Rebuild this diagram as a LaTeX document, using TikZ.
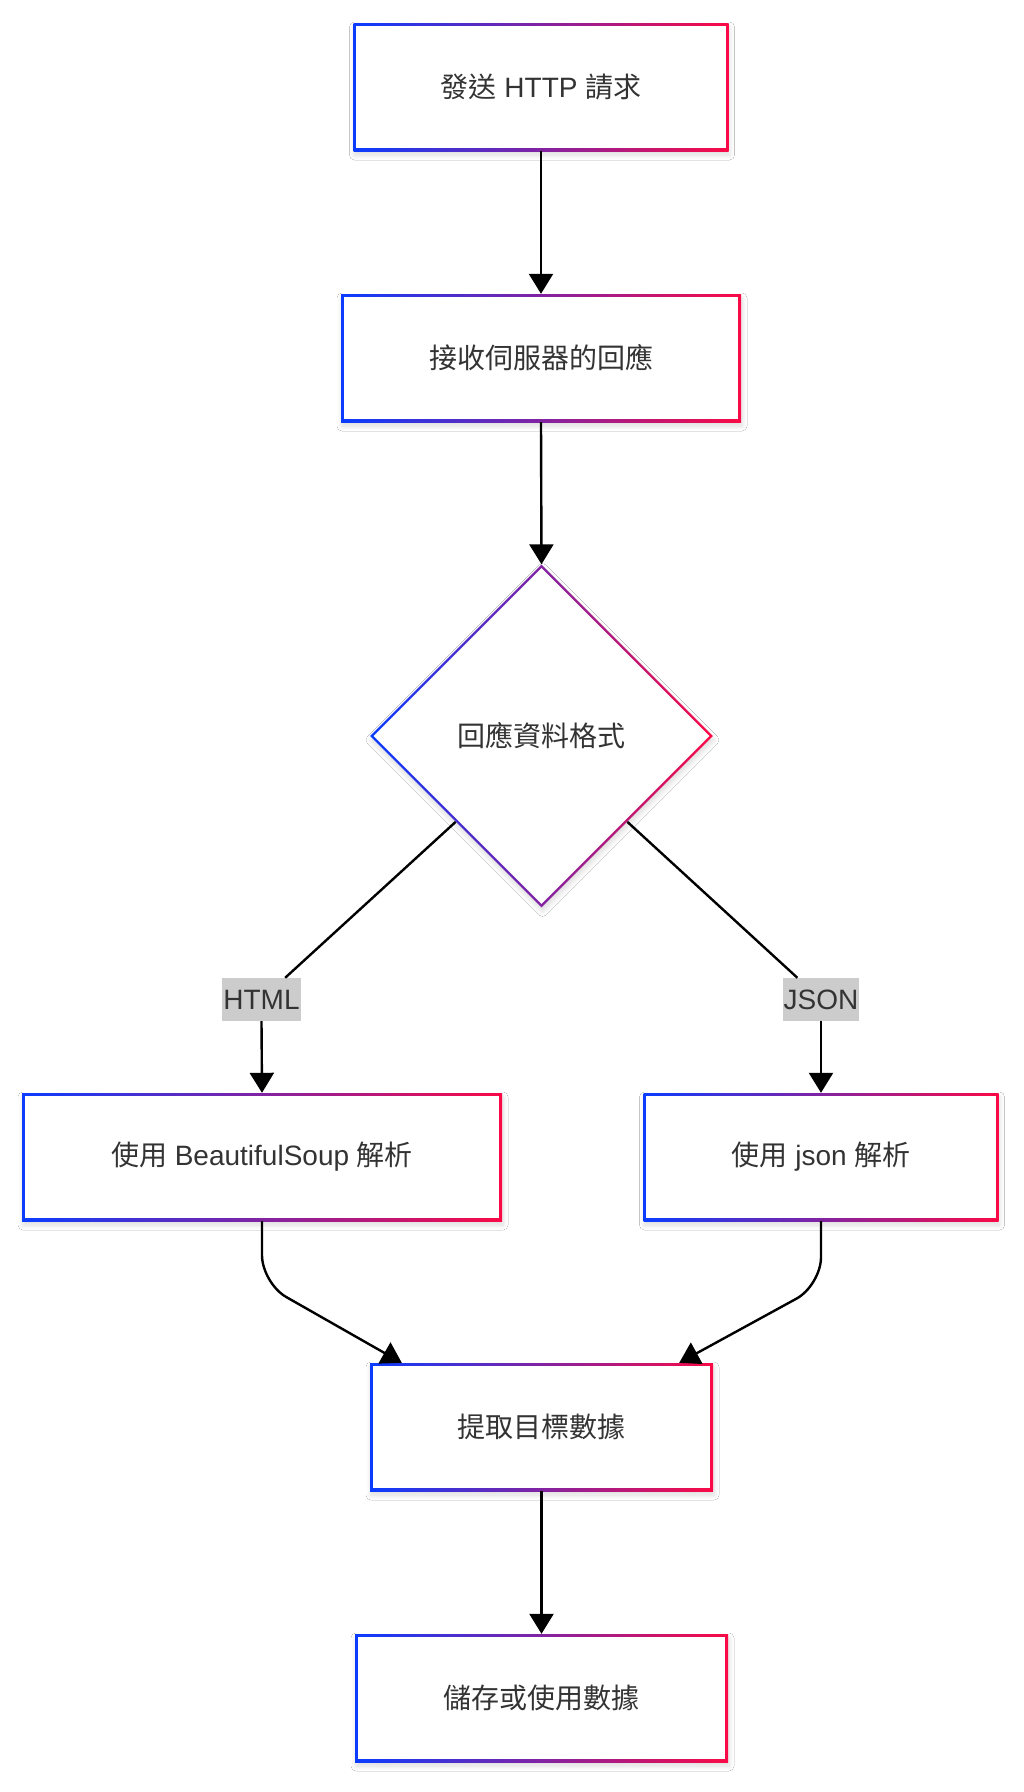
\documentclass[tikz,border=0pt]{standalone}
\usepackage{fontspec}
\setmainfont{Liberation Sans}
\newfontfamily\cjk{Noto Sans CJK TC}
\usetikzlibrary{arrows.meta,shapes.geometric,shadows.blur,calc}
\definecolor{gblue}{HTML}{0A3CFF}
\definecolor{gred}{HTML}{FA0A46}
\definecolor{txt}{HTML}{333333}
\definecolor{lblbg}{HTML}{CCCCCC}
\newcommand\zh[1]{{\cjk #1}}
\begin{document}
\begin{tikzpicture}[x=1pt,y=-1pt,
  font=\fontsize{28}{34}\selectfont, text=txt,
  soft/.style={blur shadow={shadow xshift=1pt, shadow yshift=-4pt, shadow blur radius=5pt, shadow blur steps=10, shadow opacity=14}},
  box/.style={rectangle, minimum height=128pt, inner sep=0pt, soft,
    left color=gblue, right color=gred,
    path picture={\fill[white] ([shift={(2.6pt,-2.6pt)}]path picture bounding box.north west) rectangle ([shift={(-2.6pt,2.6pt)}]path picture bounding box.south east);}},
  dia/.style={diamond, aspect=1, inner sep=0pt, minimum width=343pt, minimum height=343pt, soft,
    left color=gblue, right color=gred,
    path picture={\fill[white] ([yshift=-3.6pt]path picture bounding box.north) -- ([xshift=-3.6pt]path picture bounding box.east) -- ([yshift=3.6pt]path picture bounding box.south) -- ([xshift=3.6pt]path picture bounding box.west) -- cycle;}},
  lbl/.style={rectangle, fill=lblbg, inner xsep=1pt, inner ysep=0pt, minimum height=43pt},
  conn/.style={line width=2.4pt, draw=black},
  arr/.style={conn, -{Triangle[length=20pt,width=24pt]}}
]
\useasboundingbox[fill=white] (0,0) rectangle (1024,1792);

\node[box, minimum width=375pt] (n1) at (541,87) {\zh{發送} HTTP \zh{請求}};
\node[box, minimum width=400pt] (n2) at (541,358) {\zh{接收伺服器的回應}};
\node[dia] (d) at (541.5,736) {\zh{回應資料格式}};
\node[lbl] (lh) at (261.5,999.5) {HTML};
\node[lbl] (lj) at (821,999.5) {JSON};
\node[box, minimum width=480pt] (bs) at (262,1157) {\zh{使用} BeautifulSoup \zh{解析}};
\node[box, minimum width=355pt] (js) at (821,1157) {\zh{使用} json \zh{解析}};
\node[box, minimum width=343pt] (ex) at (541.5,1427) {\zh{提取目標數據}};
\node[box, minimum width=373pt] (st) at (541.5,1698) {\zh{儲存或使用數據}};

\draw[arr] (n1.south) -- (n2.north);
\draw[arr] (n2.south) -- (d.north);
\draw[conn] (d.south west) -- (lh);
\draw[conn] (d.south east) -- (lj);
\draw[arr] (lh.south) -- (bs.north);
\draw[arr] (lj.south) -- (js.north);
\draw[arr, rounded corners=28pt] (bs.south) -- ($(bs.south)+(0,62)$) -- ($(ex.north west)+(32,0)$);
\draw[arr, rounded corners=28pt] (js.south) -- ($(js.south)+(0,64)$) -- ($(ex.north east)+(-34,0)$);
\draw[arr] (ex.south) -- (st.north);
\end{tikzpicture}
\end{document}
